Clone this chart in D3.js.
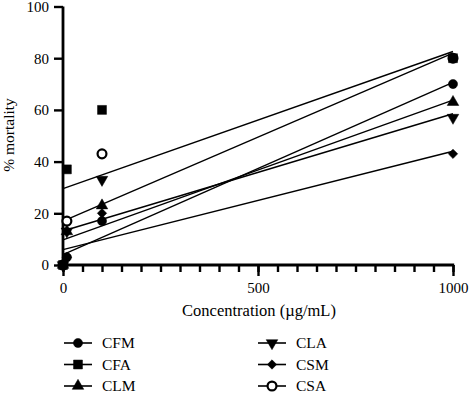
<!DOCTYPE html>
<html lang="en">
<head>
    <meta charset="UTF-8">
    <title>% mortality vs concentration</title>
    <style>
        body {
            margin: 0;
            background-color: #fff;
        }
    </style>
    <script src="https://d3js.org/d3.v7.min.js"></script>
</head>
<body>
    <div id="chart"></div>

    <script>
        // concentrations tested (µg/mL)
        const concentrations = [0, 10, 100, 1000];

        // % mortality for each extract
        const cfm = [0, 3, 17, 70];
        const cfa = [0, 37, 60, 80];
        const clm = [0, 13, 23, 63];
        const cla = [0, 13, 33, 57];
        const csm = [0, 3, 20, 43];
        const csa = [0, 17, 43, 80];

        const xTicks = [0, 500, 1000];
        const yTicks = [0, 20, 40, 60, 80, 100];

        const FONT = "'Liberation Serif', 'DejaVu Serif', serif";

        const series = [
            { name: "CFM", values: cfm, symbol: d3.symbolCircle, size: 66, rotate: 0, open: false },
            { name: "CFA", values: cfa, symbol: d3.symbolSquare, size: 80, rotate: 0, open: false },
            { name: "CLM", values: clm, symbol: d3.symbolTriangle, size: 58, rotate: 0, open: false },
            { name: "CLA", values: cla, symbol: d3.symbolTriangle, size: 58, rotate: 180, open: false },
            { name: "CSM", values: csm, symbol: d3.symbolSquare, size: 44, rotate: 45, open: false },
            { name: "CSA", values: csa, symbol: d3.symbolCircle, size: 66, rotate: 0, open: true }
        ];

        const width = 469;
        const height = 393;

        const svg = d3.select("#chart").append("svg")
            .attr("width", width)
            .attr("height", height)
            .attr("font-family", FONT);

        const x = d3.scaleLinear().domain([0, 1000]).range([63, 453]);
        const y = d3.scaleLinear().domain([0, 100]).range([265, 6.5]);

        // least squares fit
        function fit(xs, ys) {
            const mx = d3.mean(xs), my = d3.mean(ys);
            let sxy = 0, sxx = 0;
            xs.forEach((v, i) => {
                sxy += (v - mx) * (ys[i] - my);
                sxx += (v - mx) * (v - mx);
            });
            const slope = sxy / sxx;
            return { slope: slope, intercept: my - slope * mx };
        }

        // fitted lines
        const lines = svg.append("g").attr("class", "fits");
        series.forEach(s => {
            const f = fit(concentrations, s.values);
            lines.append("line")
                .attr("x1", x(0))
                .attr("y1", y(f.intercept))
                .attr("x2", x(1000))
                .attr("y2", y(f.intercept + f.slope * 1000))
                .attr("stroke", "#000")
                .attr("stroke-width", 1.4);
        });

        // axes
        const xMinor = svg.append("g")
            .attr("transform", `translate(0,${y(0)})`)
            .call(d3.axisBottom(x).tickValues(d3.range(0, 1001, 50)).tickSize(7).tickFormat(""));
        const xAxis = svg.append("g")
            .attr("transform", `translate(0,${y(0)})`)
            .call(d3.axisBottom(x).tickValues(xTicks).tickSize(11).tickPadding(6).tickFormat(d3.format("d")));
        const yAxis = svg.append("g")
            .attr("transform", `translate(${x(0)},0)`)
            .call(d3.axisLeft(y).tickValues(yTicks).tickSize(9).tickPadding(5));

        [xMinor, xAxis, yAxis].forEach(g => {
            g.attr("font-family", FONT).attr("font-size", 15);
            g.select(".domain").remove();
            g.selectAll(".tick line").attr("stroke-width", 2.4);
        });

        svg.append("line")
            .attr("x1", x(0) - 1.2).attr("x2", x(1000) + 1.2)
            .attr("y1", y(0)).attr("y2", y(0))
            .attr("stroke", "#000").attr("stroke-width", 2.8);
        svg.append("line")
            .attr("x1", x(0)).attr("x2", x(0))
            .attr("y1", y(100)).attr("y2", y(0))
            .attr("stroke", "#000").attr("stroke-width", 2.8);

        svg.append("text")
            .attr("x", 259)
            .attr("y", 316)
            .attr("text-anchor", "middle")
            .attr("font-size", 16.5)
            .text("Concentration (µg/mL)");

        svg.append("text")
            .attr("transform", "translate(14,135) rotate(-90)")
            .attr("text-anchor", "middle")
            .attr("font-size", 15.5)
            .text("% mortality");

        function drawMarker(g, s, cx, cy) {
            g.append("path")
                .attr("d", d3.symbol().type(s.symbol).size(s.open ? 62 : s.size)())
                .attr("transform", `translate(${cx},${cy}) rotate(${s.rotate})`)
                .attr("fill", s.open ? "#fff" : "#000")
                .attr("stroke", "#000")
                .attr("stroke-width", s.open ? 2.2 : 0.5);
        }

        // data points (open circles first so filled marks sit on top)
        const pts = svg.append("g").attr("class", "points");
        const order = series.filter(s => s.open).concat(series.filter(s => !s.open));
        order.forEach(s => {
            s.values.forEach((v, i) => {
                drawMarker(pts, s, x(concentrations[i]), y(v));
            });
        });

        // legend
        const legend = svg.append("g").attr("class", "legend");
        series.forEach((s, i) => {
            const col = i < 3 ? 0 : 1;
            const row = i % 3;
            const lx = col === 0 ? 64 : 258;
            const ly = 343 + row * 21.5;
            legend.append("line")
                .attr("x1", lx).attr("x2", lx + 28)
                .attr("y1", ly).attr("y2", ly)
                .attr("stroke", "#000").attr("stroke-width", 1.6);
            drawMarker(legend, s, lx + 14, ly);
            legend.append("text")
                .attr("x", lx + 38)
                .attr("y", ly)
                .attr("dy", "0.35em")
                .attr("font-size", 15.5)
                .text(s.name);
        });
    </script>
</body>
</html>
